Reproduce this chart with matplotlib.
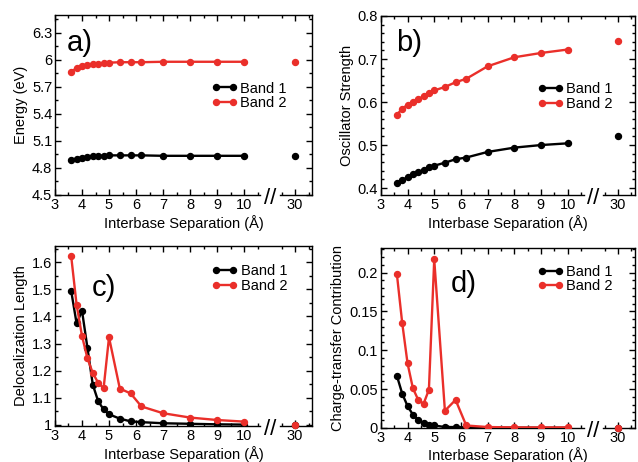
import numpy as np
import matplotlib
matplotlib.use("Agg")
import matplotlib.pyplot as plt
from matplotlib.ticker import FixedLocator, FormatStrFormatter, MultipleLocator

plt.rcParams['font.family'] = ['Liberation Sans', 'DejaVu Sans']

RED = '#ea2f2a'

# separations along the stack (A); the 30 A point is drawn after the axis break
sep = [3.6, 3.8, 4.0, 4.2, 4.4, 4.6, 4.8, 5.0, 5.4, 5.8, 6.2, 7, 8, 9, 10]
sep_far = 30

energy_b1 = [4.885, 4.905, 4.915, 4.925, 4.93, 4.935, 4.935, 4.94, 4.94, 4.94, 4.94, 4.935, 4.935, 4.935, 4.935]
energy_b2 = [5.87, 5.91, 5.93, 5.945, 5.955, 5.96, 5.965, 5.97, 5.975, 5.975, 5.975, 5.98, 5.98, 5.98, 5.98]
energy_far = (4.93, 5.98)

osc_b1 = [0.411, 0.419, 0.425, 0.432, 0.437, 0.442, 0.448, 0.452, 0.459, 0.467, 0.471, 0.484, 0.494, 0.500, 0.504]
osc_b2 = [0.571, 0.584, 0.594, 0.600, 0.606, 0.614, 0.620, 0.627, 0.635, 0.646, 0.654, 0.683, 0.704, 0.714, 0.722]
osc_far = (0.520, 0.741)

deloc_b1 = [1.494, 1.374, 1.421, 1.285, 1.148, 1.087, 1.057, 1.039, 1.023, 1.013, 1.010, 1.006, 1.004, 1.002, 1.001]
deloc_b2 = [1.622, 1.443, 1.328, 1.246, 1.191, 1.155, 1.135, 1.323, 1.134, 1.116, 1.068, 1.043, 1.027, 1.018, 1.012]
deloc_far = (1.0, 1.0)

ct_b1 = [0.067, 0.044, 0.028, 0.017, 0.010, 0.006, 0.004, 0.003, 0.001, 0.001, 0.0005, 0.0003, 0.0002, 0.0001, 0.0001]
ct_b2 = [0.198, 0.135, 0.083, 0.051, 0.036, 0.031, 0.049, 0.217, 0.022, 0.036, 0.003, 0.001, 0.0005, 0.0005, 0.0005]
ct_far = (0.0, 0.0)

x_major = [3, 4, 5, 6, 7, 8, 9, 10, 30]
x_minor = [3.5, 4.5, 5.5, 6.5, 7.5, 8.5, 9.5, 10.5, 29.5, 30.5]

# piecewise mapping that squeezes 10.6..29.44 into a short gap
brk_data = [-100, 10.6, 29.44, 100]
brk_disp = [-100, 10.6, 11.33, 100 - 18.11]


def fwd(x):
    return np.interp(x, brk_data, brk_disp)


def inv(x):
    return np.interp(x, brk_disp, brk_data)


def setup(ax, ylim, ymaj, ymin_step, ylabel):
    ax.set_xscale('function', functions=(fwd, inv))
    ax.set_xlim(3, 30.63)
    ax.set_ylim(*ylim)
    ax.xaxis.set_major_locator(FixedLocator(x_major))
    ax.xaxis.set_minor_locator(FixedLocator(x_minor))
    ax.xaxis.set_major_formatter(FormatStrFormatter('%g'))
    ax.yaxis.set_major_locator(FixedLocator(ymaj))
    ax.yaxis.set_minor_locator(MultipleLocator(ymin_step))
    ax.yaxis.set_major_formatter(FormatStrFormatter('%g'))
    ax.tick_params(which='both', direction='in', top=True, right=True,
                   labelsize=10.5, width=1.0, pad=2)
    ax.tick_params(which='major', length=4.5)
    ax.tick_params(which='minor', length=2.5)
    for s in ax.spines.values():
        s.set_linewidth(1.0)
    # broken bottom spine
    ax.spines['bottom'].set_visible(False)
    tr = ax.get_xaxis_transform()
    ax.plot([3, 10.6], [0, 0], color='k', lw=1.0, transform=tr, clip_on=False)
    ax.plot([29.44, 30.63], [0, 0], color='k', lw=1.0, transform=tr, clip_on=False)
    ax.text(20, -0.02, '//', transform=tr, ha='center', va='center', fontsize=16,
            clip_on=False)
    ax.set_xlabel('Interbase Separation (\u00c5)', fontsize=10.5, labelpad=2)
    ax.set_ylabel(ylabel, fontsize=10.5, labelpad=3)


def draw(ax, b1, b2, far):
    ax.plot(sep, b1, '-o', color='k', lw=1.7, ms=4.3, label='Band 1')
    ax.plot(sep, b2, '-o', color=RED, lw=1.7, ms=4.3, label='Band 2')
    ax.plot([sep_far], [far[0]], 'o', color='k', ms=4.3, clip_on=False)
    ax.plot([sep_far], [far[1]], 'o', color=RED, ms=4.3, clip_on=False)


def legend(ax, x, y):
    ax.legend(loc='upper left', bbox_to_anchor=(x, y), frameon=False,
              fontsize=10.5, numpoints=2, handlelength=1.75, handletextpad=0.2,
              borderpad=0, borderaxespad=0, labelspacing=0.05)


fig = plt.figure(figsize=(6.38, 4.62), dpi=100)
ax_a = fig.add_axes([0.0862, 0.578, 0.403, 0.3896])
ax_b = fig.add_axes([0.597, 0.578, 0.398, 0.3874])
ax_c = fig.add_axes([0.0862, 0.078, 0.403, 0.3896])
ax_d = fig.add_axes([0.597, 0.074, 0.398, 0.3896])

setup(ax_a, (4.5, 6.5), [4.5, 4.8, 5.1, 5.4, 5.7, 6, 6.3], 0.15, 'Energy (eV)')
draw(ax_a, energy_b1, energy_b2, energy_far)
legend(ax_a, 0.61, 0.63)
ax_a.text(0.047, 0.844, 'a)', transform=ax_a.transAxes, fontsize=21, va='center')

setup(ax_b, (0.384, 0.8), [0.4, 0.5, 0.6, 0.7, 0.8], 0.02, 'Oscillator Strength')
draw(ax_b, osc_b1, osc_b2, osc_far)
legend(ax_b, 0.618, 0.63)
ax_b.text(0.059, 0.849, 'b)', transform=ax_b.transAxes, fontsize=21, va='center')

setup(ax_c, (0.996, 1.66), [1, 1.1, 1.2, 1.3, 1.4, 1.5, 1.6], 0.05, 'Delocalization Length')
draw(ax_c, deloc_b1, deloc_b2, deloc_far)
legend(ax_c, 0.611, 0.9)
ax_c.text(0.144, 0.767, 'c)', transform=ax_c.transAxes, fontsize=21, va='center')

setup(ax_d, (0, 0.232), [0, 0.05, 0.1, 0.15, 0.2], 0.01, 'Charge-transfer Contribution')
draw(ax_d, ct_b1, ct_b2, ct_far)
legend(ax_d, 0.618, 0.906)
ax_d.text(0.276, 0.8, 'd)', transform=ax_d.transAxes, fontsize=21, va='center')

fig.savefig('out.png', dpi=100)
